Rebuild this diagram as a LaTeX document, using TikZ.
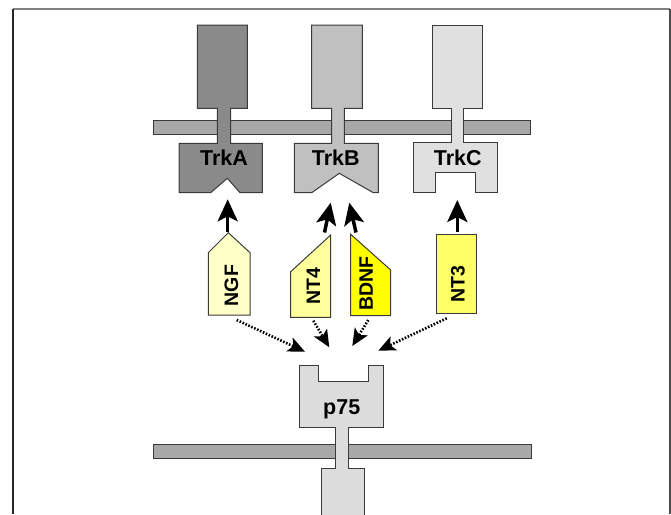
\documentclass[tikz,border=0pt]{standalone}
\usepackage{fontspec}
\setmainfont{Liberation Sans}
\usetikzlibrary{arrows.meta}
\definecolor{trka}{HTML}{8A8A8A}
\definecolor{trkb}{HTML}{C0C0C0}
\definecolor{trkc}{HTML}{E0E0E0}
\definecolor{pse}{HTML}{DCDCDC}
\definecolor{memb}{HTML}{A8A8A8}
\definecolor{outl}{HTML}{3A3A3A}
\definecolor{cngf}{HTML}{FFFFC8}
\definecolor{cnt4}{HTML}{FFFF9C}
\definecolor{cbdnf}{HTML}{FFFF00}
\definecolor{cnt3}{HTML}{FFFF66}
\tikzset{
  shapeline/.style={draw=outl, line width=1pt, line join=miter},
  membrane/.style={shapeline, fill=memb},
  lbl/.style={font=\bfseries\fontsize{21.5}{22}\selectfont, inner sep=0pt},
  vlbl/.style={font=\bfseries\fontsize{19.5}{20}\selectfont, inner sep=0pt, rotate=90},
  bindarrow/.style={line width=3.5pt, -{Stealth[length=22pt,width=20pt,inset=5pt]}},
  lowarrow/.style={line width=2.6pt, dash pattern=on 1.6pt off 1.6pt,
    -{Stealth[length=17pt,width=15pt,inset=4pt]}},
}
\begin{document}
\begin{tikzpicture}[x=1pt,y=-1pt]
\useasboundingbox (0,0) rectangle (671,514);
% frame
\draw[line width=1.5pt, gray] (13,9) -- (670,9);
\draw[line width=1.5pt, black!85] (13,9) -- (13,514);
\draw[line width=1.5pt, black!70] (670,9) -- (670,514);
% membranes
\draw[membrane] (153.3,120) rectangle (530.7,134.3);
\draw[membrane] (153.3,444) rectangle (531.7,458.3);
% TrkA
\draw[shapeline, fill=trka] (197.3,25) -- (247.3,25) -- (247.3,108.3) -- (230.7,108.3)
  -- (230.7,143.3) -- (262.3,143.3) -- (262.3,192.7) -- (240,192.7) -- (227.3,178.3)
  -- (210.7,192.7) -- (179,192.7) -- (179,143.3) -- (217.3,143.3) -- (217.3,108.3)
  -- (197.3,108.3) -- cycle;
% TrkB
\draw[shapeline, fill=trkb] (311.7,25) -- (362.3,25) -- (362.3,108.3) -- (344.3,108.3)
  -- (344.3,143.3) -- (378.3,143.3) -- (378.3,192.7) -- (373.3,192.7) -- (339.3,173.3)
  -- (311.7,192.7) -- (294.3,192.7) -- (294.3,143.3) -- (331.7,143.3) -- (331.7,108.3)
  -- (311.7,108.3) -- cycle;
% TrkC
\draw[shapeline, fill=trkc] (432.7,25) -- (482.7,25) -- (482.7,108.3) -- (463.3,108.3)
  -- (463.3,142.7) -- (497.3,142.7) -- (497.3,192.7) -- (475,192.7) -- (475,172.3)
  -- (435,172.3) -- (435,192.7) -- (413.3,192.7) -- (413.3,142.7) -- (451,142.7)
  -- (451,108.3) -- (432.7,108.3) -- cycle;
% p75
\draw[shapeline, fill=pse] (299,365.7) -- (318.3,365.7) -- (318.3,381.7) -- (368.3,381.7)
  -- (368.3,365.7) -- (383.3,365.7) -- (383.3,427.3) -- (348.3,427.3) -- (348.3,468.3)
  -- (364,468.3) -- (364,520) -- (321,520) -- (321,468.3) -- (335,468.3) -- (335,427.3)
  -- (299,427.3) -- cycle;
\node[lbl, anchor=base] (ta) at (224,165.7) {TrkA};
\node[lbl, anchor=base] (tb) at (335.7,165.7) {TrkB};
\node[lbl, anchor=base] (tc) at (457.7,165.7) {TrkC};
\node[lbl, anchor=base] (p) at (341.7,414) {p75};
% ligands
\draw[shapeline, fill=cngf] (208.3,315) -- (208.3,252.7) -- (228.3,232.7) -- (250,252.7) -- (250,315) -- cycle;
\draw[shapeline, fill=cnt4] (290.7,317.3) -- (290.7,271.7) -- (330.7,235) -- (330.7,317.3) -- cycle;
\draw[shapeline, fill=cbdnf] (350.7,315.7) -- (350.7,234.3) -- (390.7,270) -- (390.7,315.7) -- cycle;
\draw[shapeline, fill=cnt3] (436.7,234.3) rectangle (476.7,313.3);
\node[vlbl] (ngf) at (231.5,285.5) {NGF};
\node[vlbl] (nt4) at (313.3,285.8) {NT4};
\node[vlbl] (bdnf) at (366.2,283.3) {BDNF};
\node[vlbl] (nt3) at (458,284) {NT3};
% arrow end points
\coordinate (ngfT) at (227.7,231.5);
\coordinate (trkaS) at (227.7,199.3);
\coordinate (nt4T) at (324.5,232.5);
\coordinate (trkbL) at (330.7,202.7);
\coordinate (bdnfT) at (356,232.5);
\coordinate (trkbR) at (349.3,202.7);
\coordinate (nt3T) at (457.3,232);
\coordinate (trkcS) at (457.3,200);
\coordinate (ngfB) at (236.7,320);
\coordinate (p1) at (305,351.7);
\coordinate (nt4B) at (313.3,320.7);
\coordinate (p2) at (329.3,347.3);
\coordinate (bdnfB) at (368.3,320);
\coordinate (p3) at (352.3,346);
\coordinate (nt3B) at (446.7,318.3);
\coordinate (p4) at (378.3,350.7);
\draw[bindarrow] (ngfT) -- (trkaS);
\draw[bindarrow] (nt4T) -- (trkbL);
\draw[bindarrow] (bdnfT) -- (trkbR);
\draw[bindarrow] (nt3T) -- (trkcS);
\draw[lowarrow] (ngfB) -- (p1);
\draw[lowarrow] (nt4B) -- (p2);
\draw[lowarrow] (bdnfB) -- (p3);
\draw[lowarrow] (nt3B) -- (p4);
\end{tikzpicture}
\end{document}
